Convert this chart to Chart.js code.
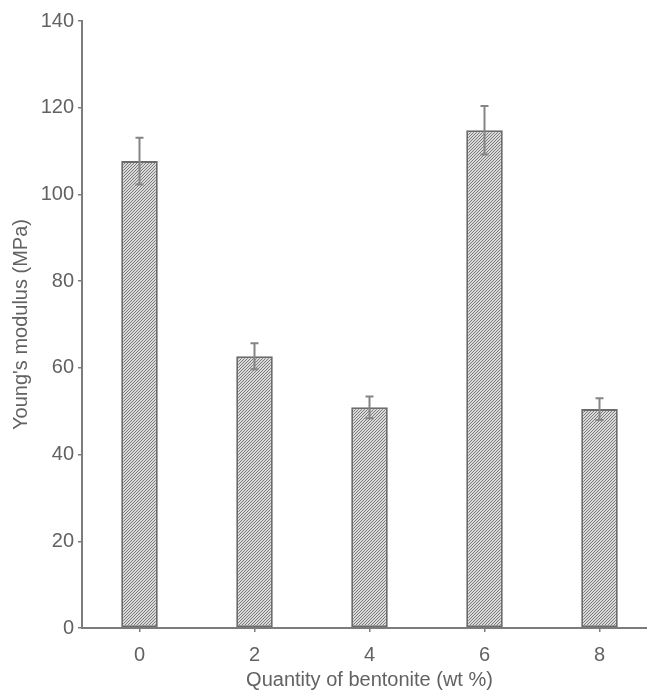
<!DOCTYPE html>
<html>
<head>
<meta charset="utf-8">
<title>Young's modulus vs bentonite content</title>
<script src="https://cdn.jsdelivr.net/npm/chart.js@4.4.1/dist/chart.umd.min.js"></script>
<style>
  html, body { margin: 0; padding: 0; background: #fff; overflow: hidden; width: 647px; height: 692px; }
  #wrap { width: 670px; height: 692px; }
</style>
</head>
<body>
<div id="wrap"><canvas id="c" width="670" height="692"></canvas></div>
<script>
// Bentonite content (wt %) and measured Young's modulus (MPa) with standard deviation
const categories = ['0', '2', '4', '6', '8'];
const modulus = [107.7, 62.7, 50.9, 114.8, 50.5];
const modulusError = [5.4, 3.0, 2.5, 5.6, 2.5];
const yMin = 0;
const yMax = 140;
const yStep = 20;

const FONT = '"Liberation Sans", Arial, Helvetica, sans-serif';
const TEXT = '#626262';
const AXIS = '#7c7c7c';

// Diagonal "////" hatch used as bar fill
function makeHatch() {
  const t = document.createElement('canvas');
  t.width = 3; t.height = 3;
  const g = t.getContext('2d');
  g.fillStyle = '#dadada';
  g.fillRect(0, 0, 3, 3);
  g.fillStyle = '#7a7a7a';
  g.fillRect(2, 0, 1, 1);
  g.fillRect(1, 1, 1, 1);
  g.fillRect(0, 2, 1, 1);
  return document.getElementById('c').getContext('2d').createPattern(t, 'repeat');
}

// Error bars drawn from the same values via the y scale
const errorBars = {
  id: 'errorBars',
  afterDatasetsDraw(chart) {
    const ctx = chart.ctx;
    const y = chart.scales.y;
    const meta = chart.getDatasetMeta(0);
    ctx.save();
    ctx.strokeStyle = '#858585';
    ctx.lineWidth = 2;
    meta.data.forEach((bar, i) => {
      const top = y.getPixelForValue(modulus[i] + modulusError[i]);
      const bot = y.getPixelForValue(modulus[i] - modulusError[i]);
      const x = bar.x;
      ctx.beginPath();
      ctx.moveTo(x, top); ctx.lineTo(x, bot);
      ctx.moveTo(x - 4, top); ctx.lineTo(x + 4, top);
      ctx.moveTo(x - 4, bot); ctx.lineTo(x + 4, bot);
      ctx.stroke();
    });
    ctx.restore();
  }
};

new Chart(document.getElementById('c'), {
  type: 'bar',
  data: {
    labels: categories,
    datasets: [{
      data: modulus,
      backgroundColor: makeHatch(),
      borderColor: '#6c6c6c',
      borderWidth: 2,
      borderSkipped: false,
      categoryPercentage: 1,
      barPercentage: 0.318
    }]
  },
  options: {
    responsive: false,
    animation: false,
    devicePixelRatio: 1,
    layout: { padding: { top: 21, right: 13, left: 0, bottom: 0 } },
    plugins: { legend: { display: false }, tooltip: { enabled: false } },
    scales: {
      x: {
        offset: true,
        grid: { display: true, drawOnChartArea: false, drawTicks: true, tickLength: 4, tickColor: AXIS, offset: false, lineWidth: 1.5 },
        border: { display: true, color: AXIS, width: 2 },
        ticks: { color: TEXT, font: { family: FONT, size: 20 }, padding: 11, maxRotation: 0 },
        title: { display: true, text: 'Quantity of bentonite (wt %)', color: TEXT, font: { family: FONT, size: 20 }, padding: { top: 0, bottom: 0 } },
        afterFit(s) { s.height = 64; }
      },
      y: {
        min: yMin, max: yMax,
        grid: { display: true, drawOnChartArea: false, drawTicks: true, tickLength: 4, tickColor: AXIS, lineWidth: 1.5 },
        border: { display: true, color: AXIS, width: 2 },
        ticks: { stepSize: yStep, color: TEXT, font: { family: FONT, size: 20 }, padding: 4 },
        title: { display: true, text: "Young's modulus (MPa)", color: TEXT, font: { family: FONT, size: 20 }, padding: { top: 9, bottom: 0 } },
        afterFit(s) { s.width = 82; }
      }
    }
  },
  plugins: [errorBars]
});
</script>
</body>
</html>
